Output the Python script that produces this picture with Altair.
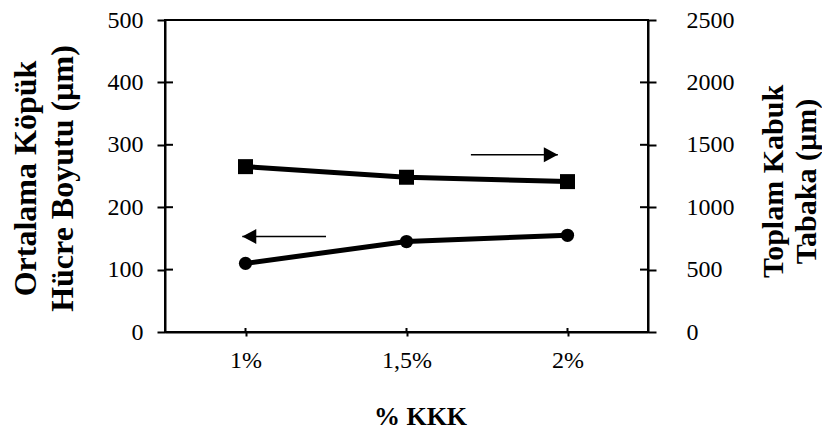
import altair as alt
import pandas as pd

# ---- data ----
x_vals = [1.0, 1.5, 2.0]
x_labels = ["1%", "1,5%", "2%"]
cell_size = [110, 145, 155]          # left axis (circles)
skin_total = [1325, 1240, 1205]      # right axis (squares)

left_ticks = [0, 100, 200, 300, 400, 500]
right_ticks = [0, 500, 1000, 1500, 2000, 2500]

# arrow annotations: tail x, tip x, y
arrow_left = {"x": [1.25], "x2": [0.99], "v": [153]}
arrow_right = {"x": [1.70], "x2": [1.97], "v": [1420]}

FONT = "Liberation Serif"
W, H = 483, 312

df_c = pd.DataFrame({"x": x_vals, "v": cell_size})
df_s = pd.DataFrame({"x": x_vals, "v": skin_total})
df_al = pd.DataFrame(arrow_left)
df_ar = pd.DataFrame(arrow_right)
df_tl = pd.DataFrame({"v": left_ticks})
df_tr = pd.DataFrame({"v": right_ticks})
df_tx = pd.DataFrame({"x": x_vals})

label_expr = " : ".join(
    f"datum.value == {v} ? '{l}'" for v, l in zip(x_vals[:-1], x_labels[:-1])
) + f" : '{x_labels[-1]}'"

x_axis = alt.Axis(values=x_vals, labelExpr=label_expr, tickSize=4, labelPadding=12,
                  title="% KKK", titleFontSize=26, titleFontWeight="bold",
                  titleX=255, titleY=92, titleBaseline="alphabetic", titleAlign="center",
                  grid=False)
x_enc = alt.X("x:Q", scale=alt.Scale(domain=[0.75, 2.25]), axis=x_axis)

left_axis = alt.Axis(values=left_ticks, tickSize=8, labelPadding=14, orient="left", format="d",
                     title=["Ortalama Köpük", "Hücre Boyutu (µm)"],
                     titleFontSize=32, titleFontWeight="bold", titleLineHeight=37,
                     titleAngle=270, titleX=-140, titleY=158, titleAlign="center",
                     titleBaseline="middle", grid=False)
right_axis = alt.Axis(values=right_ticks, tickSize=8, labelPadding=30, orient="right", format="d",
                      title=["Toplam Kabuk", "Tabaka (µm)"],
                      titleFontSize=30, titleFontWeight="bold", titleLineHeight=33,
                      titleAngle=270, titleX=125, titleY=161, titleAlign="center",
                      titleBaseline="middle", grid=False)

yl = alt.Y("v:Q", scale=alt.Scale(domain=[0, 500]), axis=left_axis)
yr = alt.Y("v:Q", scale=alt.Scale(domain=[0, 2500]), axis=right_axis)

head_left = "M0,0L2,-1.07L2,1.07Z"
head_right = "M0,0L-2,-1.07L-2,1.07Z"

# left group
line_c = alt.Chart(df_c).mark_line(color="black", strokeWidth=5).encode(x=x_enc, y=yl)
pts_c = alt.Chart(df_c).mark_point(shape="circle", filled=True, color="black", size=175, opacity=1).encode(x=x_enc, y=yl)
arr_l = alt.Chart(df_al).mark_rule(color="black", strokeWidth=1.5).encode(x=x_enc, x2="x2:Q", y=yl)
arr_lh = alt.Chart(df_al).mark_point(shape=head_left, filled=True, color="black", size=196, opacity=1).encode(
    x=alt.X("x2:Q", scale=alt.Scale(domain=[0.75, 2.25]), axis=x_axis), y=yl)
tick_l = alt.Chart(df_tl).mark_rule(color="black", strokeWidth=2).encode(y=yl, x=alt.value(0), x2=alt.value(8))
tick_x = alt.Chart(df_tx).mark_rule(color="black", strokeWidth=2).encode(x=x_enc, y=alt.value(H - 4), y2=alt.value(H))

# right group
line_s = alt.Chart(df_s).mark_line(color="black", strokeWidth=5).encode(x=x_enc, y=yr)
pts_s = alt.Chart(df_s).mark_point(shape="square", filled=True, color="black", size=225, opacity=1).encode(x=x_enc, y=yr)
arr_r = alt.Chart(df_ar).mark_rule(color="black", strokeWidth=1.5).encode(x=x_enc, x2="x2:Q", y=yr)
arr_rh = alt.Chart(df_ar).mark_point(shape=head_right, filled=True, color="black", size=196, opacity=1).encode(
    x=alt.X("x2:Q", scale=alt.Scale(domain=[0.75, 2.25]), axis=x_axis), y=yr)
tick_r = alt.Chart(df_tr).mark_rule(color="black", strokeWidth=2).encode(y=yr, x=alt.value(W - 8), x2=alt.value(W))

left_group = alt.layer(line_c, pts_c, arr_l, arr_lh, tick_l, tick_x)
right_group = alt.layer(line_s, pts_s, arr_r, arr_rh, tick_r)

chart = alt.layer(left_group, right_group).resolve_scale(y="independent").properties(
    width=W, height=H,
    autosize=alt.AutoSizeParams(type="none"),
    padding={"left": 157, "top": 12, "right": 174, "bottom": 97},
).configure(font=FONT).configure_view(stroke="black", strokeWidth=2).configure_axis(
    domainColor="black", domainWidth=2, tickColor="black", tickWidth=2,
    labelFont=FONT, labelFontSize=24, labelColor="black",
    titleFont=FONT, titleColor="black",
)

chart.save("out.html", embed_options={"renderer": "svg", "actions": False})
